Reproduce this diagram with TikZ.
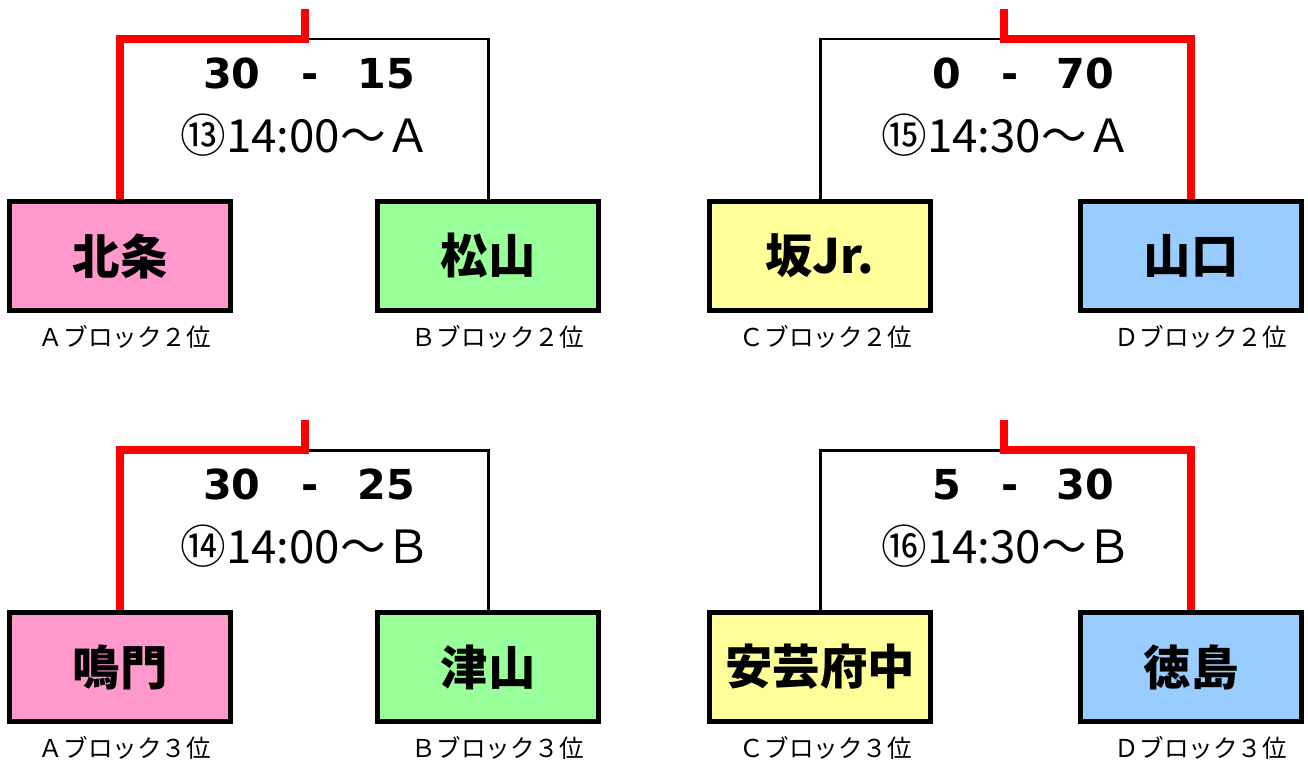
\documentclass[tikz,border=0pt]{standalone}
\usepackage{fontspec}
\setmainfont{Noto Sans CJK JP}
\newfontfamily\scorefont{DejaVu Sans}
\definecolor{blockA}{HTML}{FF99CC}
\definecolor{blockB}{HTML}{99FF99}
\definecolor{blockC}{HTML}{FFFF99}
\definecolor{blockD}{HTML}{99CCFF}

\begin{document}
\begin{tikzpicture}[x=0.02cm, y=-0.02cm,
    team/.style={draw, line width=3pt, minimum width=4.41cm, minimum height=2.17cm, inner sep=0pt, font=\fontsize{27}{30}\selectfont\bfseries},
    win/.style={red, line width=4.5pt},
    lose/.style={line width=1.7pt},
    score/.style={inner sep=0pt, font=\scorefont\fontsize{23.5}{26}\selectfont\bfseries},
    kickoff/.style={inner sep=0pt, anchor=base, font=\fontsize{26}{29}\selectfont},
    rank/.style={inner sep=0pt, font=\fontsize{14}{17}\selectfont}]
  \useasboundingbox (0,0) rectangle (1308,765);

  % Match 13
  \node[team, fill=blockA] (hojo) at (120,256) {北条};
  \node[team, fill=blockB] (matsuyama) at (488,256) {松山};
  \coordinate (j13) at (305,39);
  \coordinate (top13) at (305,9);
  \draw[lose] (j13) -| (matsuyama.north);
  \draw[win] (top13) -- (j13) -| (hojo.north);
  \node[score, anchor=base] (d13) at (310,88) {-};
  \node[score, anchor=base east] (a13) at (261,88) {30};
  \node[score, anchor=base west] (b13) at (357,88) {15};
  \node[kickoff] (k13) at (306,152) {⑬14:00～Ａ};
  \node[rank] (r13a) at (125,337) {Ａブロック２位};
  \node[rank] (r13b) at (498,337) {Ｂブロック２位};

  % Match 15
  \node[team, fill=blockC] (saka) at (820,256) {坂Jr.};
  \node[team, fill=blockD] (yamaguchi) at (1191,256) {山口};
  \coordinate (j15) at (1004,39);
  \coordinate (top15) at (1004,9);
  \draw[lose] (j15) -| (saka.north);
  \draw[win] (top15) -- (j15) -| (yamaguchi.north);
  \node[score, anchor=base] (d15) at (1010,88) {-};
  \node[score, anchor=base east] (a15) at (962,88) {0};
  \node[score, anchor=base west] (b15) at (1056,88) {70};
  \node[kickoff] (k15) at (1007,152) {⑮14:30～Ａ};
  \node[rank] (r15a) at (826,337) {Ｃブロック２位};
  \node[rank] (r15b) at (1201,337) {Ｄブロック２位};

  % Match 14
  \node[team, fill=blockA] (naruto) at (120,667) {鳴門};
  \node[team, fill=blockB] (tsuyama) at (488,667) {津山};
  \coordinate (j14) at (305,450);
  \coordinate (top14) at (305,420);
  \draw[lose] (j14) -| (tsuyama.north);
  \draw[win] (top14) -- (j14) -| (naruto.north);
  \node[score, anchor=base] (d14) at (310,499) {-};
  \node[score, anchor=base east] (a14) at (261,499) {30};
  \node[score, anchor=base west] (b14) at (357,499) {25};
  \node[kickoff] (k14) at (306,563) {⑭14:00～Ｂ};
  \node[rank] (r14a) at (125,748) {Ａブロック３位};
  \node[rank] (r14b) at (498,748) {Ｂブロック３位};

  % Match 16
  \node[team, fill=blockC] (akifuchu) at (820,667) {安芸府中};
  \node[team, fill=blockD] (tokushima) at (1191,667) {徳島};
  \coordinate (j16) at (1004,450);
  \coordinate (top16) at (1004,420);
  \draw[lose] (j16) -| (akifuchu.north);
  \draw[win] (top16) -- (j16) -| (tokushima.north);
  \node[score, anchor=base] (d16) at (1010,499) {-};
  \node[score, anchor=base east] (a16) at (962,499) {5};
  \node[score, anchor=base west] (b16) at (1056,499) {30};
  \node[kickoff] (k16) at (1007,563) {⑯14:30～Ｂ};
  \node[rank] (r16a) at (826,748) {Ｃブロック３位};
  \node[rank] (r16b) at (1201,748) {Ｄブロック３位};
\end{tikzpicture}
\end{document}
